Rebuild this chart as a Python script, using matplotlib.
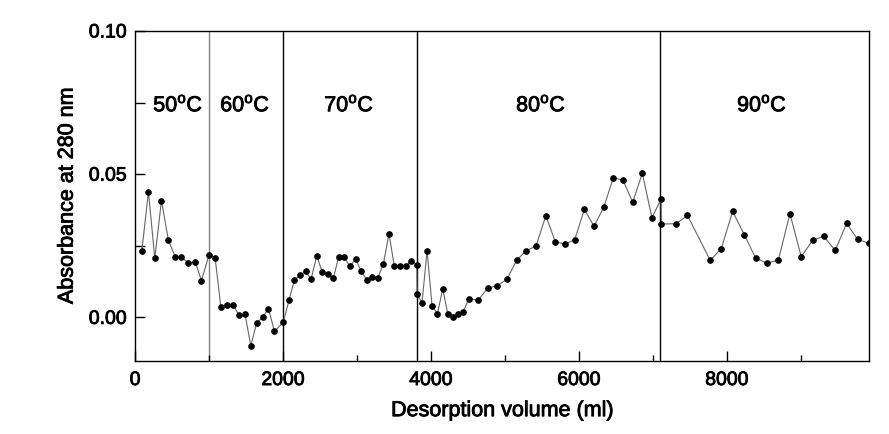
import matplotlib
matplotlib.use('Agg')
import matplotlib.pyplot as plt
import matplotlib.patheffects as pe
from matplotlib.ticker import MultipleLocator

plt.rcParams['font.family'] = ['Liberation Sans', 'DejaVu Sans']
plt.rcParams['mathtext.fontset'] = 'custom'
plt.rcParams['mathtext.rm'] = 'Liberation Sans'

# Data
volume = [90, 180, 266, 356, 450, 540, 626, 720, 815, 896, 1000,
          1081, 1158, 1239, 1324, 1401, 1486, 1563, 1644, 1725, 1802, 1883,
          2004, 2079, 2153, 2230, 2306, 2378, 2455, 2531, 2604, 2680, 2752,
          2824, 2901, 2982, 3054, 3131, 3207, 3280, 3356, 3432, 3504, 3581,
          3658, 3734, 3807, 3811, 3878, 3946, 4014, 4086, 4158, 4226, 4297,
          4369, 4436, 4509, 4640, 4766, 4896, 5027, 5158, 5288, 5419, 5552,
          5680, 5811, 5942, 6072, 6203, 6334, 6464, 6595, 6726, 6856, 6986,
          7110, 7114, 7313, 7466, 7774, 7923, 8077, 8234, 8388, 8536, 8694,
          8851, 9004, 9158, 9307, 9464, 9617, 9766, 9915]
absorbance = [0.0231, 0.0438, 0.0206, 0.0408, 0.0269, 0.0212, 0.0210, 0.0190,
              0.0193, 0.0128, 0.0219, 0.0208, 0.0038, 0.0044, 0.0044, 0.0009,
              0.0011, -0.0099, -0.0019, 0.0000, 0.0031, -0.0049, -0.0016,
              0.0059, 0.0130, 0.0148, 0.0161, 0.0133, 0.0215, 0.0157, 0.0150,
              0.0137, 0.0212, 0.0212, 0.0178, 0.0204, 0.0161, 0.0132, 0.0142,
              0.0137, 0.0187, 0.0292, 0.0178, 0.0179, 0.0178, 0.0198, 0.0183,
              0.0081, 0.0051, 0.0232, 0.0041, 0.0012, 0.0100, 0.0013, 0.0003,
              0.0013, 0.0020, 0.0064, 0.0061, 0.0102, 0.0111, 0.0133, 0.0200,
              0.0233, 0.0249, 0.0355, 0.0264, 0.0256, 0.0271, 0.0377, 0.0318,
              0.0384, 0.0488, 0.0479, 0.0402, 0.0503, 0.0348, 0.0413, 0.0326,
              0.0327, 0.0356, 0.0199, 0.0240, 0.0370, 0.0289, 0.0207, 0.0190,
              0.0199, 0.0362, 0.0212, 0.0269, 0.0283, 0.0234, 0.0328, 0.0273,
              0.0259]

boundaries = [1000, 2000, 3810, 7100]
temp_labels = ['50', '60', '70', '80', '90']
temp_x = [581, 1486, 2892, 5486, 8473]

fig = plt.figure(figsize=(8.89, 4.35), dpi=100)
ax = fig.add_axes([0.152, 0.168, 0.8255, 0.7585])

ax.plot(volume, absorbance, '-', color='#666666', lw=0.8, zorder=2)
ax.plot(volume, absorbance, 'o', color='black', ms=3.8, zorder=3)

for i, b in enumerate(boundaries):
    ax.axvline(b, color='#808080' if i == 0 else 'black', lw=1.0, zorder=1)

for t, x in zip(temp_labels, temp_x):
    ax.text(x, 0.0739, t + r'$^{\mathrm{o}}$C', ha='center', va='center', fontsize=15.5)

ax.set_xlim(0, 9920)
ax.set_ylim(-0.0152, 0.10)
ax.xaxis.set_major_locator(MultipleLocator(2000))
ax.xaxis.set_minor_locator(MultipleLocator(1000))
ax.yaxis.set_major_locator(MultipleLocator(0.05))
ax.yaxis.set_minor_locator(MultipleLocator(0.025))
ax.set_yticks([0.0, 0.05, 0.10])
ax.set_yticklabels(['0.00', '0.05', '0.10'])

ax.tick_params(which='both', direction='in', top=False, right=False, labelsize=14, width=1)
ax.tick_params(axis='x', which='major', length=7, pad=8)
ax.tick_params(axis='x', which='minor', length=4)
ax.tick_params(axis='y', which='both', length=7, pad=6)
for s in ax.spines.values():
    s.set_linewidth(1.0)

ax.set_xlabel('Desorption volume (ml)', fontsize=15.5, labelpad=8)
ax.set_ylabel('Absorbance at 280 nm', fontsize=15.5, labelpad=8)

# heavier text, like the scanned original
thick = [pe.withStroke(linewidth=0.6, foreground='black')]
for txt in ax.texts + ax.get_xticklabels() + ax.get_yticklabels() + [ax.xaxis.label, ax.yaxis.label]:
    txt.set_path_effects(thick)

fig.savefig('out.png', dpi=100)
